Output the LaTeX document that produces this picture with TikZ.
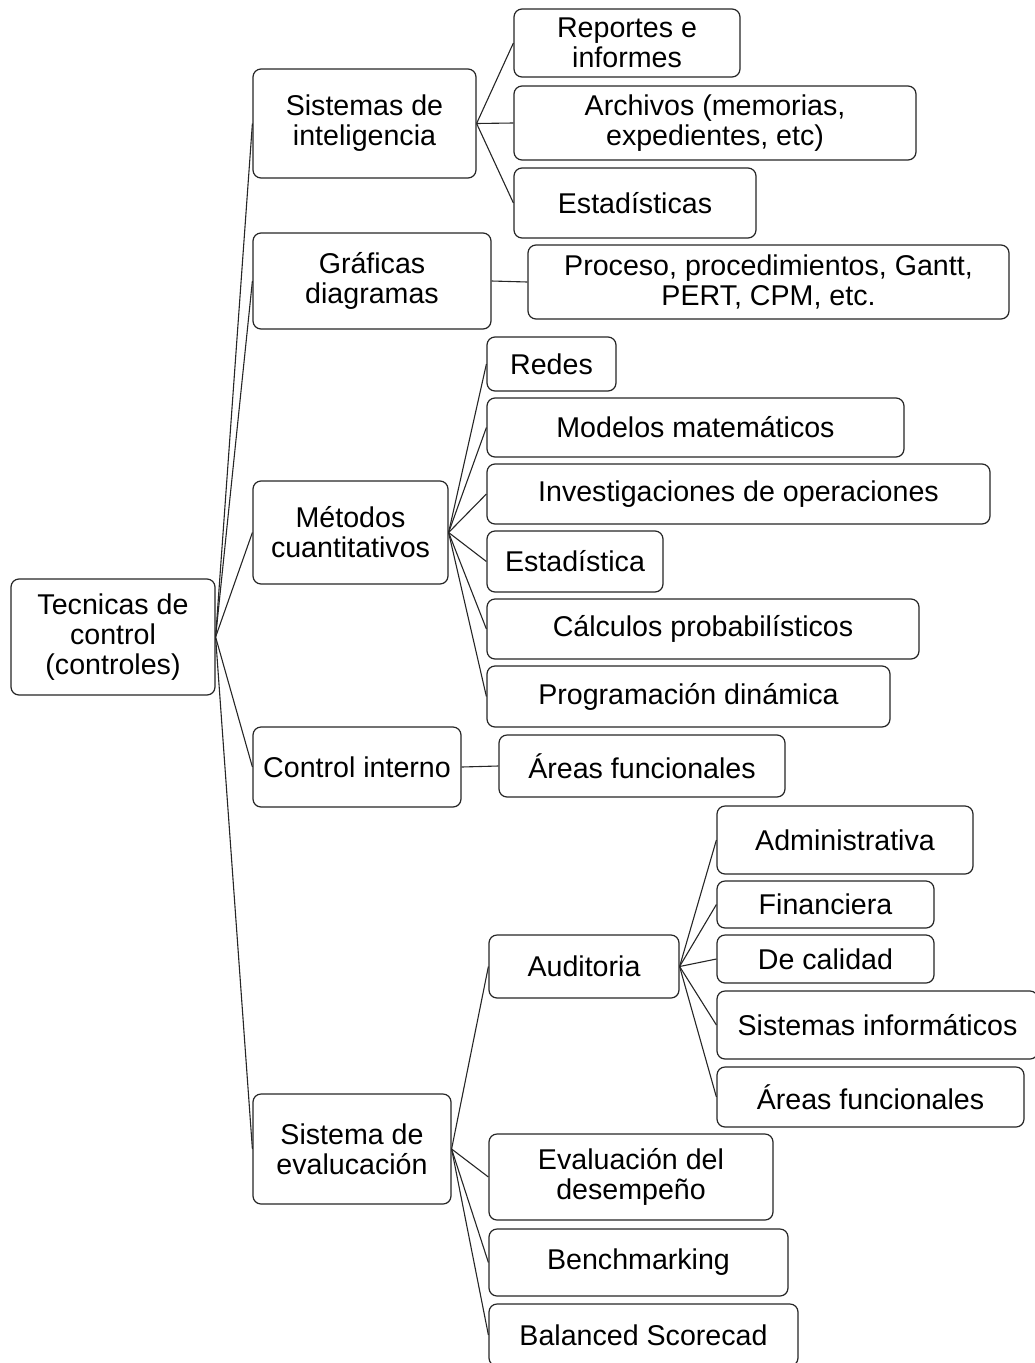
\documentclass[tikz,border=0pt]{standalone}
\usepackage{fontspec}
\setmainfont{Liberation Sans}
\begin{document}
\begin{tikzpicture}[x=1pt,y=-1pt,
  box/.style={draw=black!85, line width=1.2pt, rounded corners=8pt, fill=white,
    inner sep=0pt, align=center, font=\fontsize{28.6}{30}\selectfont},
  link/.style={draw=black!85, line width=1.1pt}]
\newcommand\bx[6]{\node[box, minimum width={#4-#2}, minimum height={#5-#3}] (#1) at ({(#2+#4)/2},{(#3+#5)/2}) {#6};}
\useasboundingbox (0,0) rectangle (1035,1363);
\clip (0,0) rectangle (1035,1363);
% root
\bx{root}{11}{579}{215}{695}{Tecnicas de\\control\\(controles)}
% level 1
\bx{sys}{253}{69}{476}{178}{Sistemas de\\inteligencia}
\bx{gra}{253}{233}{491}{329}{Gráficas\\diagramas}
\bx{met}{253}{481}{448}{584}{Métodos\\cuantitativos}
\bx{ci}{253}{727}{461}{807}{Control interno}
\bx{se}{253}{1094}{451}{1204}{Sistema de\\evalucación}
% sistemas children
\bx{rep}{514}{9}{740}{77}{Reportes e\\informes}
\bx{arc}{514}{86}{916}{160}{Archivos (memorias,\\expedientes, etc)}
\bx{est}{514}{168}{756}{238}{Estadísticas}
% graficas child
\bx{pro}{528}{245}{1009}{319}{Proceso, procedimientos, Gantt,\\PERT, CPM, etc.}
% metodos children
\bx{red}{487}{337}{616}{391}{Redes}
\bx{mod}{487}{398}{904}{457}{Modelos matemáticos}
\bx{inv}{487}{464}{990}{524}{Investigaciones de operaciones}
\bx{esa}{487}{531}{663}{592}{Estadística}
\bx{cal}{487}{599}{919}{659}{Cálculos probabilísticos}
\bx{prg}{487}{666}{890}{727}{Programación dinámica}
% control interno child
\bx{are}{499}{735}{785}{797}{Áreas funcionales}
% sistema de evaluacion children
\bx{aud}{489}{935}{679}{998}{Auditoria}
\bx{eva}{489}{1134}{773}{1220}{Evaluación del\\desempeño}
\bx{ben}{489}{1229}{788}{1296}{Benchmarking}
\bx{bal}{489}{1304}{798}{1366}{Balanced Scorecad}
% auditoria children
\bx{adm}{717}{806}{973}{874}{Administrativa}
\bx{fin}{717}{881}{934}{928}{Financiera}
\bx{dec}{717}{935}{934}{983}{De calidad}
\bx{sin}{717}{991}{1038}{1059}{Sistemas informáticos}
\bx{af2}{717}{1067}{1024}{1127}{Áreas funcionales}
% connectors
\foreach \c in {sys,gra,met,ci,se} \draw[link] (root.east) -- (\c.west);
\foreach \c in {rep,arc,est} \draw[link] (sys.east) -- (\c.west);
\draw[link] (gra.east) -- (pro.west);
\foreach \c in {red,mod,inv,esa,cal,prg} \draw[link] (met.east) -- (\c.west);
\draw[link] (ci.east) -- (are.west);
\foreach \c in {aud,eva,ben,bal} \draw[link] (se.east) -- (\c.west);
\foreach \c in {adm,fin,dec,sin,af2} \draw[link] (aud.east) -- (\c.west);
\end{tikzpicture}
\end{document}
